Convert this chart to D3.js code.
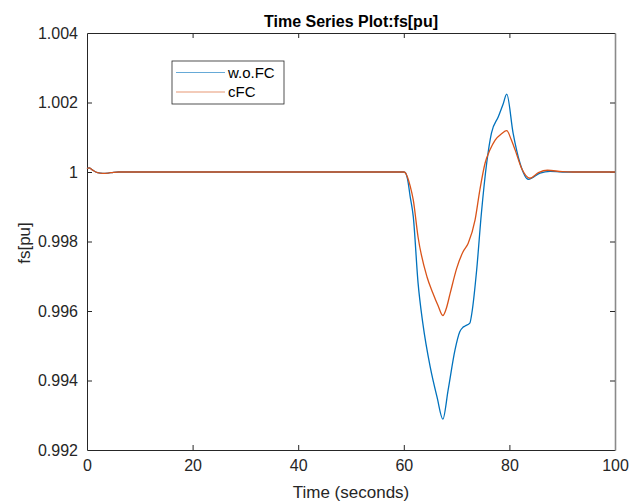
<!DOCTYPE html>
<html>
<head>
<meta charset="utf-8">
<script src="https://cdn.jsdelivr.net/npm/d3@7"></script>
<style>
  html, body { margin: 0; padding: 0; background: #fff; }
  svg { display: block; font-family: "Liberation Sans", Arial, Helvetica, sans-serif; }
</style>
</head>
<body>
<svg id="chart" width="630" height="503"></svg>
<script>
// ---- data ----
const seriesNames = ["w.o.FC", "cFC"];
const timeWoFC = [0, 0.4, 1, 2, 3, 4, 5, 6, 60, 60.3, 60.7, 61.2, 61.8, 62.7, 63.6, 65, 66.3, 67.4,
  68.4, 69.7, 70.6, 71.2, 71.6, 72.5, 72.9, 73.8, 74.7, 75.7, 76.6, 77.9, 78.8, 79.5, 80.7, 82, 83.6,
  85.8, 87.7, 90, 100];
const valWoFC = [1.0001, 1.00012, 1.00006, 0.99998, 0.99996, 0.99997, 0.99999, 1, 1, 0.99998, 0.9998, 0.9993,
  0.99871, 0.99681, 0.99565, 0.99439, 0.99352, 0.99289,
  0.99373, 0.99488, 0.9954, 0.99553, 0.99557, 0.99565, 0.99595, 0.99718, 0.99882, 1.00026, 1.00112, 1.00159,
  1.00195, 1.00224, 1.00112, 1.00026, 0.99979,
  0.99997, 1.00002, 1, 1];
const timeCFC = [0, 0.4, 1, 2, 3, 4, 5, 6, 60, 60.3, 60.7, 61.2, 61.8, 62.7, 64.4, 65.5, 66.5, 67.4,
  68, 68.8, 70, 71.2, 72.2, 73.5, 74.4, 75.4, 76.3, 77.3, 78.5, 79.5, 80.3, 81.1, 82.3, 83.9,
  85.5, 87.2, 90, 92, 100];
const valCFC = [1.0001, 1.00012, 1.00006, 0.99998, 0.99996, 0.99997, 0.99999, 1, 1, 0.99998, 0.99985, 0.9996,
  0.99919, 0.99813, 0.99698, 0.99652, 0.99615, 0.99587,
  0.99605, 0.99652, 0.99722, 0.9977, 0.99795, 0.99862, 0.99948, 1.00026, 1.00063, 1.00092, 1.0011, 1.00119,
  1.00095, 1.00063, 1.00011, 0.99982,
  0.99998, 1.00005, 1.00001, 1, 1];
const xTicks = [0, 20, 40, 60, 80, 100];
const yTicks = [0.992, 0.994, 0.996, 0.998, 1, 1.002, 1.004];
const yTickLabels = ["0.992", "0.994", "0.996", "0.998", "1", "1.002", "1.004"];
const titleText = "Time Series Plot:fs[pu]";
const xLabel = "Time (seconds)";
const yLabel = "fs[pu]";

// ---- layout ----
const svg = d3.select("#chart");
const L = 87, R = 615, T = 33, B = 450;
const colors = ["#0072BD", "#D95319"];
const axisColor = "#262626";

const x = d3.scaleLinear().domain([0, 100]).range([L, R]);
const y = d3.scaleLinear().domain([0.992, 1.004]).range([B, T]);

// axes
const tickLen = 5;
const gx = svg.append("g").attr("transform", `translate(0,${B})`)
  .call(d3.axisBottom(x).tickValues(xTicks).tickSizeInner(-tickLen).tickSizeOuter(0).tickPadding(10));
const gxTop = svg.append("g").attr("transform", `translate(0,${T})`)
  .call(d3.axisTop(x).tickValues(xTicks).tickSizeInner(-tickLen).tickSizeOuter(0).tickFormat(""));
const gy = svg.append("g").attr("transform", `translate(${L},0)`)
  .call(d3.axisLeft(y).tickValues(yTicks).tickSizeInner(-tickLen).tickSizeOuter(0).tickPadding(9)
    .tickFormat((d, i) => yTickLabels[i]));
const gyR = svg.append("g").attr("transform", `translate(${R},0)`)
  .call(d3.axisRight(y).tickValues(yTicks).tickSizeInner(-tickLen).tickSizeOuter(0).tickFormat(""));

[gx, gxTop, gy, gyR].forEach(g => {
  g.select(".domain").attr("stroke", axisColor).attr("stroke-width", 1);
  g.selectAll(".tick line").attr("stroke", axisColor).attr("stroke-width", 1);
  g.selectAll(".tick text").attr("fill", "#262626").attr("font-size", 16)
    .attr("font-family", "Liberation Sans, Arial, sans-serif");
});
// hide end ticks on the frame (at the corners) like MATLAB
gxTop.selectAll(".tick").filter(d => d === 0 || d === 100).select("line").remove();
gx.selectAll(".tick").filter(d => d === 0 || d === 100).select("line").remove();
gy.selectAll(".tick").filter(d => d === 0.992 || d === 1.004).select("line").remove();
gyR.selectAll(".tick").filter(d => d === 0.992 || d === 1.004).select("line").remove();
gyR.select(".domain").attr("stroke", "#8a8a8a").attr("stroke-width", 1.6);

// lines
const line = d3.line().x(d => x(d[0])).y(d => y(d[1])).curve(d3.curveMonotoneX);
const dataSets = [
  d3.zip(timeWoFC, valWoFC),
  d3.zip(timeCFC, valCFC)
];
dataSets.forEach((ds, i) => {
  svg.append("path").datum(ds)
    .attr("fill", "none")
    .attr("stroke", colors[i])
    .attr("stroke-width", 1.3)
    .attr("stroke-linejoin", "round")
    .attr("d", line);
});

// title & labels
svg.append("text").attr("x", (L + R) / 2).attr("y", 27)
  .attr("text-anchor", "middle").attr("font-size", 16).attr("font-weight", "bold")
  .attr("fill", "#000").text(titleText);
svg.append("text").attr("x", (L + R) / 2).attr("y", 498)
  .attr("text-anchor", "middle").attr("font-size", 17).attr("fill", "#262626").text(xLabel);
svg.append("text").attr("transform", `translate(30,243) rotate(-90)`)
  .attr("text-anchor", "middle").attr("font-size", 17).attr("fill", "#262626").text(yLabel);

// legend
const lg = svg.append("g");
lg.append("rect").attr("x", 172).attr("y", 61).attr("width", 112).attr("height", 43)
  .attr("fill", "#fff").attr("stroke", "#262626").attr("stroke-width", 0.8);
seriesNames.forEach((name, i) => {
  const yy = 72.5 + i * 19.5;
  lg.append("line").attr("x1", 176).attr("x2", 225).attr("y1", yy).attr("y2", yy)
    .attr("stroke", colors[i]).attr("stroke-width", 1.2).attr("stroke-opacity", 0.6);
  lg.append("text").attr("x", 228).attr("y", yy + 5).attr("font-size", 15)
    .attr("fill", "#000").text(name);
});
</script>
</body>
</html>
